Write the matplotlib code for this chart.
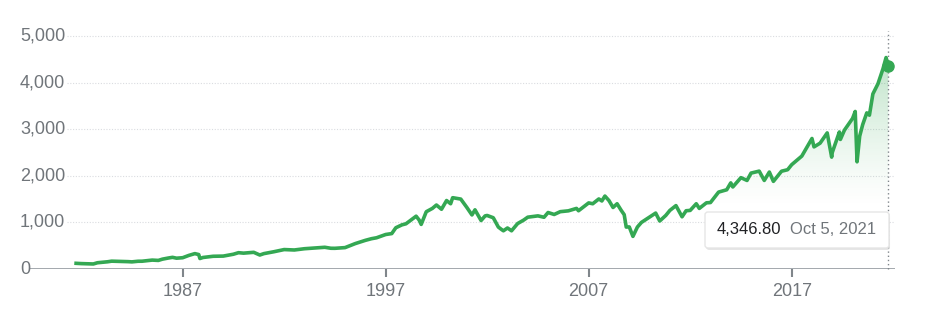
# S&P 500 long-run line chart, google-finance style

import numpy as np
import matplotlib.pyplot as plt
from matplotlib.patches import FancyBboxPatch

plt.rcParams["font.family"] = ["Liberation Sans", "DejaVu Sans"]

# decimal year / index level
years = [1981.75, 1982.0, 1982.3, 1982.6, 1982.8, 1983.0, 1983.3, 1983.5, 1983.8,
         1984.0, 1984.3, 1984.5, 1984.8, 1985.0, 1985.3, 1985.5, 1985.8,
         1986.0, 1986.3, 1986.5, 1986.7, 1987.0, 1987.3, 1987.6, 1987.79, 1987.85,
         1988.0, 1988.5, 1989.0, 1989.5, 1989.75, 1990.0, 1990.5, 1990.8,
         1991.0, 1991.5, 1992.0, 1992.5, 1993.0, 1993.5, 1994.0, 1994.3, 1994.5,
         1995.0, 1995.5, 1996.0, 1996.3, 1996.55, 1997.0, 1997.3, 1997.5, 1997.8,
         1998.0, 1998.5, 1998.65, 1998.75, 1999.0, 1999.3, 1999.5, 1999.75,
         2000.0, 2000.2, 2000.3, 2000.7, 2001.0, 2001.25, 2001.4, 2001.7,
         2001.9, 2002.0, 2002.3, 2002.55, 2002.7, 2002.8, 2003.0, 2003.2,
         2003.5, 2003.8, 2004.0, 2004.5, 2004.8, 2005.0, 2005.3, 2005.6, 2006.0,
         2006.4, 2006.5, 2007.0, 2007.2, 2007.5, 2007.65, 2007.8, 2008.0, 2008.2,
         2008.4, 2008.6, 2008.75, 2008.85, 2009.0, 2009.18, 2009.4, 2009.6,
         2010.0, 2010.3, 2010.5, 2010.8, 2011.0, 2011.3, 2011.6, 2011.8, 2012.0,
         2012.3, 2012.45, 2012.8, 2013.0, 2013.4, 2013.8, 2014.0, 2014.1,
         2014.5, 2014.8, 2015.0, 2015.4, 2015.65, 2015.9, 2016.1, 2016.5,
         2016.8, 2017.0, 2017.5, 2018.0, 2018.1, 2018.4, 2018.75, 2018.97,
         2019.0, 2019.35, 2019.4, 2019.6, 2020.0, 2020.13, 2020.22, 2020.35,
         2020.5, 2020.7, 2020.83, 2021.0, 2021.25, 2021.5, 2021.65, 2021.76]
levels = [122, 116, 112, 108, 134, 142, 155, 168, 165,
          164, 158, 153, 166, 167, 180, 191, 184,
          211, 236, 250, 232, 242, 291, 330, 310, 225,
          247, 273, 277, 317, 350, 340, 358, 300,
          330, 371, 417, 408, 435, 450, 466, 445, 444,
          459, 545, 615, 650, 670, 740, 760, 885, 947,
          970, 1133, 1050, 957, 1229, 1300, 1373, 1282,
          1469, 1400, 1530, 1500, 1320, 1160, 1270, 1040,
          1140, 1148, 1100, 900, 850, 820, 880, 820,
          975, 1050, 1112, 1140, 1110, 1212, 1170, 1230, 1248,
          1300, 1250, 1418, 1400, 1503, 1460, 1565, 1468, 1320,
          1400, 1260, 1166, 900, 903, 700, 900, 1000,
          1115, 1200, 1030, 1150, 1257, 1360, 1120, 1250, 1257,
          1400, 1300, 1420, 1426, 1650, 1700, 1848, 1760,
          1960, 1900, 2058, 2100, 1900, 2080, 1880, 2098,
          2130, 2238, 2423, 2800, 2620, 2700, 2920, 2400,
          2500, 2940, 2780, 2980, 3231, 3380, 2300, 2850,
          3100, 3350, 3300, 3756, 3973, 4298, 4537, 4346.8]

year_ticks = [1987, 1997, 2007, 2017]
value_ticks = [0, 1000, 2000, 3000, 4000, 5000]
value_labels = ["0", "1,000", "2,000", "3,000", "4,000", "5,000"]

green = "#34a853"
gray_txt = "#70757a"

W, H = 926, 319
XL = (1979.43, 2022.09)
fig = plt.figure(figsize=(W / 100, H / 100), dpi=100)
ax = fig.add_axes([29 / W, 50 / H, 866 / W, (269 - 31.3) / H])
ax.set_xlim(*XL)
ax.set_ylim(0, 5100)
for s in ax.spines.values():
    s.set_visible(False)
ax.set_yticks([])
ax.set_xticks(year_ticks)
ax.set_xticklabels([str(y) for y in year_ticks], color=gray_txt, fontsize=13)
ax.tick_params(axis="x", length=6, width=1.5, color="#80868b", pad=4)


def px_to_year(px):
    return XL[0] + (px - 29) / 866 * (XL[1] - XL[0])


# gridlines start at pixel 67
for v in value_ticks[1:]:
    ax.plot([px_to_year(67), XL[1]], [v, v], ls=(0, (1, 1.5)), color="#dadce0",
            lw=0.8, zorder=1)
ax.axhline(0, color="#9aa0a6", lw=2, zorder=2)

import matplotlib.transforms as mtrans
lab_tr = mtrans.blended_transform_factory(fig.transFigure, ax.transData)
for v, lab in zip(value_ticks, value_labels):
    ax.text(20 / W, v, lab, transform=lab_tr, ha="left", va="center",
            color=gray_txt, fontsize=13)

# gradient fill under the line, stronger toward the top
poly = ax.fill_between(years, levels, 0, color="none", lw=0)
grad = np.linspace(0, 1, 200)
alpha = np.clip((grad * 5100 - 1300) / 3500, 0, 1) ** 1.3 * 0.35
rgba = np.zeros((200, 1, 4))
rgba[..., 0], rgba[..., 1], rgba[..., 2] = 0x34 / 255, 0xa8 / 255, 0x53 / 255
rgba[:, 0, 3] = alpha
img = ax.imshow(rgba, extent=[years[0], years[-1], 0, 5100], origin="lower",
                aspect="auto", zorder=2)
img.set_clip_path(poly.get_paths()[0], transform=ax.transData)

ax.plot(years, levels, color=green, lw=2.6, zorder=3, solid_joinstyle="round")
ax.plot(years[-1], levels[-1], "o", color=green, ms=8, zorder=4, clip_on=False)
ax.plot([years[-1], years[-1]], [0, 5100], ls=(0, (1, 2)), color="#80868b", lw=1,
        zorder=2, clip_on=False)

# tooltip box with soft shadow
bx0, bx1 = px_to_year(705), px_to_year(889)
by0, by1 = (269 - 248) / 0.0466, (269 - 212) / 0.0466
shadow = FancyBboxPatch((bx0 + 0.05, by0 - 40), bx1 - bx0, by1 - by0,
                        boxstyle="round,pad=0,rounding_size=0.15", fc="#d0d0d0",
                        ec="none", alpha=0.6, zorder=5, mutation_aspect=400)
ax.add_patch(shadow)
box = FancyBboxPatch((bx0, by0), bx1 - bx0, by1 - by0,
                     boxstyle="round,pad=0,rounding_size=0.15", fc="white",
                     ec="#e6e6e6", lw=1, zorder=6, mutation_aspect=400)
ax.add_patch(box)
ax.text(bx0 + 0.55, (by0 + by1) / 2, "4,346.80", color="#202124", fontsize=12,
        va="center", ha="left", zorder=7)
ax.text(bx0 + 4.2, (by0 + by1) / 2, "Oct 5, 2021", color=gray_txt, fontsize=12,
        va="center", ha="left", zorder=7)

fig.savefig("out.png", dpi=100)
